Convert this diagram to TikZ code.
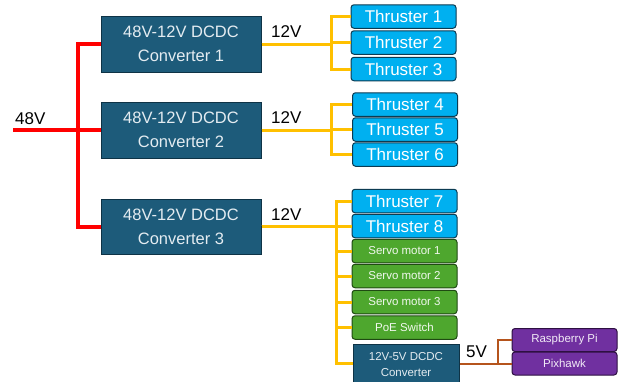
\documentclass[tikz,border=0pt]{standalone}
\usepackage{fontspec}
\setmainfont{Liberation Sans}
\begin{document}
\begin{tikzpicture}[x=1pt,y=-1pt,
  box/.style={draw, line width=1pt, rounded corners=3pt, inner sep=0pt, align=center},
  conv/.style={box, rounded corners=0pt, fill=convc, draw=convd, text=convt, minimum width=160, minimum height=56, font=\fontsize{16.5}{24}\selectfont},
  thr/.style={box, fill=thrc, draw=thrd, text=white, minimum width=105, minimum height=23.5, font=\fontsize{17}{20}\selectfont},
  servo/.style={box, fill=grnc, draw=grnd, text=white!92!grnc, minimum width=105, minimum height=23.5, font=\fontsize{11.5}{14}\selectfont},
  pur/.style={box, fill=purc, draw=purd, text=white!90!purc, minimum width=105, minimum height=23, font=\fontsize{11.5}{14}\selectfont},
  lbl/.style={inner sep=0pt, text=black, font=\fontsize{17}{20}\selectfont},
  redw/.style={draw=red, line width=4pt},
  yelw/.style={draw=yelc, line width=3pt},
  brw/.style={draw=brnc, line width=2pt}
]
\definecolor{convc}{HTML}{1D5B7A}
\definecolor{convd}{HTML}{0E3346}
\definecolor{convt}{HTML}{E4ECF1}
\definecolor{thrc}{HTML}{00B0F0}
\definecolor{thrd}{HTML}{0C3B52}
\definecolor{grnc}{HTML}{4EA72E}
\definecolor{grnd}{HTML}{1F4A12}
\definecolor{purc}{HTML}{7030A0}
\definecolor{purd}{HTML}{2E1042}
\definecolor{yelc}{HTML}{FFC000}
\definecolor{brnc}{HTML}{B5541C}
\useasboundingbox[fill=white] (0,0) rectangle (621,381);

% converters
\node[conv] (c1) at (181,44) {48V-12V DCDC\\Converter 1};
\node[conv] (c2) at (181,130) {48V-12V DCDC\\Converter 2};
\node[conv, minimum height=55] (c3) at (181,226.5) {48V-12V DCDC\\Converter 3};

% thrusters
\node[thr] (t1) at (403.5,16.5) {Thruster 1};
\node[thr] (t2) at (403.5,42.5) {Thruster 2};
\node[thr] (t3) at (403.5,69) {Thruster 3};
\node[thr] (t4) at (405,104.5) {Thruster 4};
\node[thr] (t5) at (405,129.5) {Thruster 5};
\node[thr] (t6) at (405,154.5) {Thruster 6};
\node[thr] (t7) at (404.5,201) {Thruster 7};
\node[thr] (t8) at (404.5,226) {Thruster 8};
\node[servo] (s1) at (404.5,251) {Servo motor 1};
\node[servo] (s2) at (404.5,276) {Servo motor 2};
\node[servo] (s3) at (404.5,302) {Servo motor 3};
\node[servo] (poe) at (404.5,327.5) {PoE Switch};
\node[conv, minimum width=106, minimum height=41, font=\fontsize{11.5}{16}\selectfont] (c4) at (406,364.5) {12V-5V DCDC\\Converter};

% purple
\node[pur] (rp) at (564.5,340) {Raspberry Pi};
\node[pur] (px) at (564.5,363.5) {Pixhawk};

% labels
\coordinate (in48) at (13,130);
\node[lbl, anchor=south west] (l48) at (15,125) {48V};
\node[lbl, anchor=south west] (l12a) at (271,38) {12V};
\node[lbl, anchor=south west] (l12b) at (271,124) {12V};
\node[lbl, anchor=south west] (l12c) at (271,221) {12V};
\node[lbl, anchor=south west] (l5) at (466,358) {5V};

% red 48V bus
\coordinate (rb) at (78,0);
\draw[redw] (in48) -- (c2.west);
\draw[redw] (c1.west) -- (c1.west -| rb) -- (c3.west -| rb) -- (c3.west);

% yellow 12V buses
\coordinate (b1) at (331,0);
\coordinate (b3) at (336,0);
\foreach \t in {t1,t2,t3}{
  \draw[yelw] (c1.east) -- (c1.east -| b1) |- (\t.west);
}
\foreach \t in {t4,t5,t6}{
  \draw[yelw] (c2.east) -- (c2.east -| b1) |- (\t.west);
}
\foreach \t in {t7,t8,s1,s2,s3,poe}{
  \draw[yelw] (c3.east) -- (c3.east -| b3) |- (\t.west);
}
\draw[yelw] (c3.east) -- (c3.east -| b3) |- (c4.west |- px.west);

% brown 5V
\coordinate (b4) at (498,0);
\draw[brw] (c4.east |- px.west) -- (px.west);
\draw[brw] (b4 |- px.west) |- (rp.west);
\end{tikzpicture}
\end{document}
